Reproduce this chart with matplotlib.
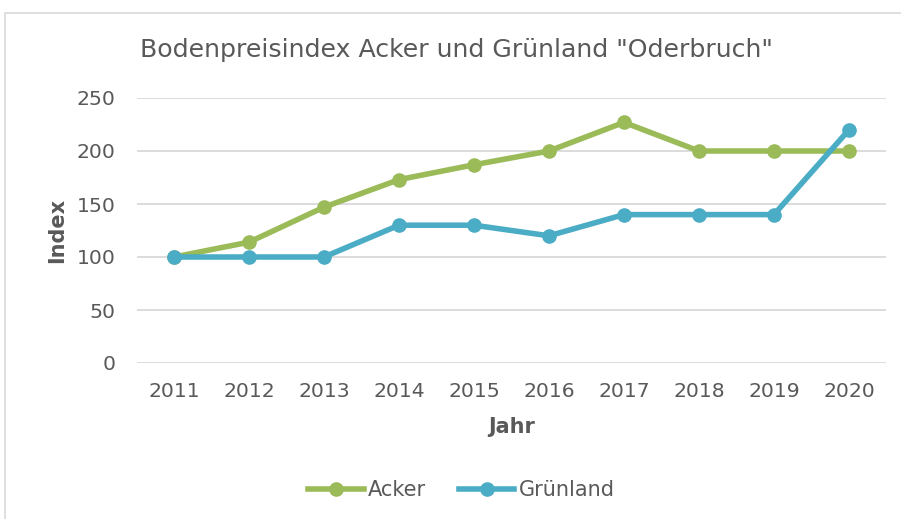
import matplotlib.pyplot as plt
from matplotlib.patches import Rectangle

jahre = ['2011', '2012', '2013', '2014', '2015', '2016', '2017', '2018', '2019', '2020']
acker = [100, 114, 147, 173, 187, 200, 227, 200, 200, 200]
gruenland = [100, 100, 100, 130, 130, 120, 140, 140, 140, 220]

grau = '#595959'
plt.rcParams['font.family'] = ['DejaVu Sans']

fig = plt.figure(figsize=(9.01, 5.19), dpi=100)
fig.patches.append(Rectangle((5 / 901, -0.1), 1.1, (519 - 13) / 519 + 0.1,
                             transform=fig.transFigure, fill=False,
                             edgecolor='#D9D9D9', lw=1.2))

ax = fig.add_axes([136.5 / 901, 156 / 519, 750 / 901, 265 / 519])
x = range(len(jahre))
ax.plot(x, acker, color='#9BBB59', lw=4, marker='o', ms=9.5, label='Acker', zorder=3)
ax.plot(x, gruenland, color='#4BACC6', lw=4, marker='o', ms=9.5, label='Grünland', zorder=3)

ax.set_xlim(-0.5, len(jahre) - 0.5)
ax.set_ylim(0, 250)
ax.set_yticks(range(0, 251, 50))
ax.set_xticks(list(x))
ax.set_xticklabels(jahre)
ax.grid(axis='y', color='#D9D9D9', lw=1.3)
ax.set_axisbelow(True)
for s in ax.spines.values():
    s.set_visible(False)
ax.tick_params(length=0, labelsize=14.7, colors=grau)
ax.tick_params(axis='x', pad=13.5)
ax.tick_params(axis='y', pad=15)

ax.set_xlabel('Jahr', fontsize=15, fontweight='bold', color=grau, labelpad=11.5)
ax.set_ylabel('Index', fontsize=15, fontweight='bold', color=grau, labelpad=7)
fig.text(140 / 901, 1 - 50 / 519, 'Bodenpreisindex Acker und Grünland "Oderbruch"',
         fontsize=18.2, color=grau, va='center', ha='left')

fig.legend(loc='center', bbox_to_anchor=(461.5 / 901, 1 - 490 / 519), ncol=2, frameon=False,
           fontsize=15, labelcolor=grau, handlelength=2.65, handletextpad=0.2,
           columnspacing=1.6)

fig.savefig('out.png', dpi=100)
